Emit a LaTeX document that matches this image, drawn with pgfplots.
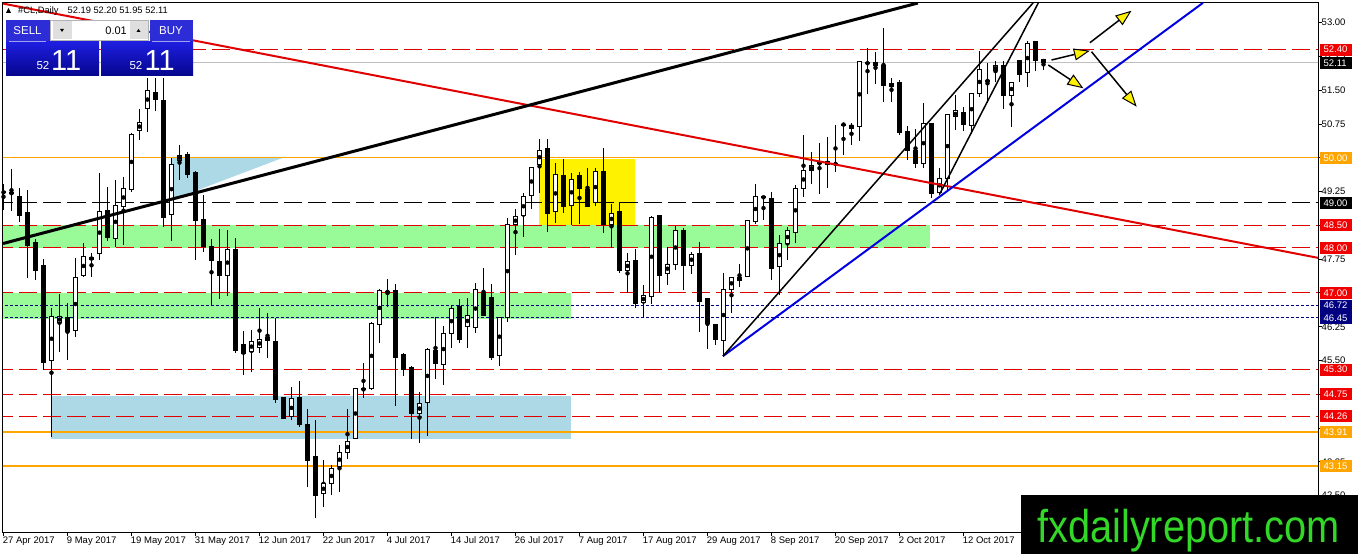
\documentclass[border=0pt]{standalone}
\usepackage{pgfplots}
\pgfplotsset{compat=1.18}
\usepackage{pgfplotstable}
\usepackage{fontspec}
\setmainfont{Liberation Sans}
\usepackage{graphicx}
\usetikzlibrary{arrows.meta}

\definecolor{mtred}{RGB}{225,0,0}
\definecolor{lblred}{RGB}{240,0,0}
\definecolor{mtorange}{RGB}{255,165,0}
\definecolor{mtnavy}{RGB}{0,0,128}
\definecolor{mtgreen}{RGB}{152,251,152}
\definecolor{mtlblue}{RGB}{173,216,230}
\definecolor{mtblue}{RGB}{0,0,225}
\definecolor{mtgray}{RGB}{192,192,192}
\definecolor{wmgreen}{RGB}{50,215,40}
\definecolor{btnblue}{RGB}{45,45,215}
\definecolor{boxtop}{RGB}{30,30,225}
\definecolor{boxbot}{RGB}{5,5,140}

\pgfplotstableread{
i O H L C
0 49.25 49.43 48.84 49.22
1 49.23 49.75 48.81 49.20
2 49.15 49.32 48.58 48.72
3 48.79 49.29 47.33 48.05
4 48.12 48.20 47.29 47.51
5 47.60 47.75 45.29 45.45
6 45.50 46.66 43.80 46.47
7 46.35 46.98 45.70 46.47
8 46.46 46.77 45.51 46.14
9 46.16 47.77 46.03 47.35
10 47.38 48.10 47.36 47.82
11 47.75 47.88 47.35 47.78
12 47.87 49.66 47.73 48.81
13 48.84 49.36 48.16 48.23
14 48.21 49.51 48.03 48.95
15 48.92 49.58 48.07 49.32
16 49.30 50.55 49.25 50.52
17 50.60 51.08 50.40 50.79
18 51.10 51.77 50.58 51.49
19 51.45 51.77 51.03 51.30
20 51.28 51.77 48.47 48.68
21 48.75 50.00 48.16 49.86
22 49.94 50.29 49.50 50.06
23 50.08 50.12 49.55 49.62
24 49.67 49.70 47.73 48.62
25 48.64 49.17 47.92 48.03
26 48.03 48.19 46.73 47.72
27 47.71 48.41 46.86 47.38
28 47.38 48.40 46.93 47.97
29 47.97 48.21 45.66 45.73
30 45.85 46.16 45.19 45.66
31 45.70 46.18 45.25 45.92
32 45.79 46.67 45.66 45.97
33 46.02 46.55 45.55 45.94
34 45.93 46.44 44.55 44.64
35 44.68 44.70 44.20 44.22
36 44.25 44.92 44.17 44.65
37 44.68 45.05 44.02 44.08
38 44.08 44.42 42.70 43.28
39 43.38 44.18 42.00 42.50
40 42.54 43.29 42.24 42.77
41 42.77 43.18 42.52 43.11
42 43.14 43.63 42.59 43.46
43 43.46 44.42 43.31 43.70
44 43.77 44.90 43.75 44.88
45 44.87 45.44 44.66 44.85
46 44.88 46.35 44.85 46.33
47 46.29 47.08 45.90 47.05
48 47.03 47.30 46.70 47.02
49 47.05 47.20 44.49 45.57
50 45.64 45.66 45.16 45.31
51 45.35 45.38 43.77 44.33
52 44.33 44.81 43.66 44.54
53 44.57 45.79 43.83 45.75
54 45.73 46.46 45.10 45.44
55 45.42 46.27 44.96 46.09
56 46.09 46.73 45.77 46.66
57 46.70 46.86 45.88 45.97
58 46.25 46.90 45.79 46.51
59 46.24 47.23 46.12 47.07
60 47.01 47.55 46.50 46.50
61 46.90 47.20 45.51 45.57
62 45.61 46.47 45.39 46.45
63 46.45 48.66 46.36 48.52
64 48.52 48.86 47.84 48.69
65 48.71 49.23 48.25 49.14
66 49.16 49.79 48.86 49.79
67 49.86 50.41 49.21 50.17
68 50.21 50.41 48.36 48.77
69 48.80 49.88 48.55 49.62
70 49.60 49.97 48.78 48.92
71 48.95 49.66 48.51 49.52
72 49.60 49.69 48.53 49.32
73 49.30 49.77 48.90 48.93
74 49.01 49.77 48.93 49.69
75 49.69 50.21 48.34 48.51
76 48.52 48.97 47.99 48.77
77 48.81 49.03 47.44 47.50
78 47.49 47.88 46.99 47.71
79 47.73 47.97 46.66 46.77
80 46.79 47.18 46.44 46.94
81 46.93 48.71 46.75 48.68
82 48.71 48.73 46.99 47.38
83 47.44 48.03 47.18 47.64
84 47.64 48.49 47.51 48.38
85 48.38 48.44 47.07 47.61
86 47.62 47.92 47.42 47.86
87 47.88 48.14 46.14 46.81
88 46.87 46.88 45.75 46.33
89 46.30 46.31 45.85 45.96
90 45.94 47.45 45.59 47.08
91 47.08 47.35 46.55 47.35
92 47.28 47.64 47.14 47.35
93 47.36 48.62 47.36 48.62
94 48.58 49.42 48.53 49.15
95 49.14 49.15 48.62 49.11
96 49.10 49.25 47.29 47.55
97 47.58 48.29 46.96 48.10
98 48.10 48.47 47.73 48.38
99 48.35 49.40 48.12 49.32
100 49.32 50.51 49.14 49.72
101 49.72 50.12 49.41 49.82
102 49.89 50.34 49.20 49.87
103 49.92 50.46 49.32 49.86
104 49.87 50.73 49.69 49.86
105 50.74 50.78 50.06 50.74
106 50.73 50.78 50.29 50.66
107 50.69 52.13 50.38 52.13
108 52.11 52.43 51.42 52.09
109 52.11 52.36 51.64 52.05
110 52.06 52.88 51.24 51.60
111 51.58 51.77 51.25 51.64
112 51.67 51.73 50.51 50.56
113 50.58 50.71 49.95 50.16
114 50.16 50.65 49.77 49.88
115 49.88 51.21 49.77 50.77
116 50.77 50.77 49.10 49.21
117 49.23 49.77 49.17 49.55
118 49.55 50.97 49.25 50.97
119 50.91 51.39 50.62 51.04
120 51.01 51.12 50.60 50.75
121 50.73 51.43 50.54 51.43
122 51.42 52.38 51.36 51.95
123 51.70 52.10 51.21 51.72
124 51.93 52.16 51.69 52.05
125 52.05 52.16 51.08 51.39
126 51.38 51.69 50.69 51.68
127 52.16 52.16 51.69 51.86
128 51.89 52.60 51.57 52.54
129 52.58 52.58 51.93 52.17
130 52.19 52.20 51.95 52.11
}\candles

\newcommand{\lvl}[3]{%
  \fill[#2] (1320pt,{531.3pt-(53-#1)*45.05pt-6pt}) rectangle (1352pt,{531.3pt-(53-#1)*45.05pt+6pt});
  \node[anchor=west, text=white, inner sep=0pt, font=\fontsize{9.5}{10}\selectfont] at (1323.5pt,{531.3pt-(53-#1)*45.05pt}) {#3};}

\begin{document}
\begin{tikzpicture}
\path[use as bounding box] (0,0) rectangle (1358pt,554pt);
\fill[white] (0,0) rectangle (1358pt,554pt);
\begin{axis}[
  at={(3pt,21pt)}, anchor=south west, scale only axis,
  width=1315pt, height=530pt,
  xmin=-0.0625, xmax=164.3125, ymin=41.6726, ymax=53.4373,
  clip mode=individual,
  axis line style={black, line width=1pt},
  tick style={black, line width=1pt},
  tick align=outside, major tick length=3.5pt,
  xtick pos=bottom, ytick pos=right, yticklabel pos=right,
  xtick={0,8,16,24,32,40,48,56,64,72,80,88,96,104,112,120},
  xticklabels={27 Apr 2017, 9 May 2017, 19 May 2017, 31 May 2017, 12 Jun 2017, 22 Jun 2017, 4 Jul 2017, 14 Jul 2017, 26 Jul 2017, 7 Aug 2017, 17 Aug 2017, 29 Aug 2017, 8 Sep 2017, 20 Sep 2017, 2 Oct 2017, 12 Oct 2017},
  ytick={42.5,43.25,44,44.75,45.5,46.25,47,47.75,48.5,49.25,50,50.75,51.5,52.25,53},
  yticklabels={42.50,43.25,{},44.75,45.50,46.25,47.00,47.75,48.50,49.25,50.00,50.75,51.50,52.25,53.00},
  ticklabel style={font=\fontsize{9.5}{10}\selectfont, inner sep=0pt},
  xticklabel style={anchor=north west, xshift=-0.8pt},
  yticklabel style={anchor=west},
]
% zones
\fill[mtgreen] (axis cs:-0.0625,48.00) rectangle (axis cs:115.8,48.50);
\fill[mtgreen] (axis cs:-0.0625,46.42) rectangle (axis cs:70.9,47.00);
\fill[mtlblue] (axis cs:6.0,43.77) rectangle (axis cs:70.9,44.71);
\fill[yellow] (axis cs:66.9,48.50) rectangle (axis cs:78.9,49.98);
\fill[mtlblue] (axis cs:20.94,50.02) -- (axis cs:35.19,50.02) -- (axis cs:20.94,49.06) -- cycle;
% horizontal levels
\addplot[mtred, line width=1pt, dash pattern=on 18pt off 6pt] coordinates {(-1,52.40) (170,52.40)};
\addplot[mtgray, line width=1pt] coordinates {(-1,52.11) (170,52.11)};
\addplot[mtorange, line width=1pt] coordinates {(-1,50.00) (170,50.00)};
\addplot[black, line width=1pt, dash pattern=on 18pt off 6pt] coordinates {(-1,49.00) (170,49.00)};
\addplot[mtred, line width=1pt, dash pattern=on 18pt off 6pt] coordinates {(-1,48.50) (170,48.50)};
\addplot[mtred, line width=1pt, dash pattern=on 18pt off 6pt] coordinates {(-1,48.00) (170,48.00)};
\addplot[mtred, line width=1pt, dash pattern=on 18pt off 6pt] coordinates {(-1,47.00) (170,47.00)};
\addplot[mtnavy, line width=1pt, dash pattern=on 3pt off 2pt] coordinates {(-1,46.72) (170,46.72)};
\addplot[mtnavy, line width=1pt, dash pattern=on 3pt off 2pt] coordinates {(-1,46.45) (170,46.45)};
\addplot[mtred, line width=1pt, dash pattern=on 18pt off 6pt] coordinates {(-1,45.30) (170,45.30)};
\addplot[mtred, line width=1pt, dash pattern=on 18pt off 6pt] coordinates {(-1,44.75) (170,44.75)};
\addplot[mtred, line width=1pt, dash pattern=on 18pt off 6pt] coordinates {(-1,44.26) (170,44.26)};
\addplot[mtorange, line width=2pt] coordinates {(-1,43.91) (170,43.91)};
\addplot[mtorange, line width=2pt] coordinates {(-1,43.15) (170,43.15)};
% candles: wicks
\addplot[only marks, mark=none, error bars/.cd, y dir=both, y explicit, error mark=none,
  error bar style={draw=black, line width=1pt}]
  table[x=i, y expr={(\thisrow{H}+\thisrow{L})/2}, y error expr={(\thisrow{H}-\thisrow{L})/2}] {\candles};
% bodies
\addplot[only marks, mark=none, error bars/.cd, y dir=both, y explicit, error mark=none,
  error bar style={draw=black, line width=5pt}]
  table[x=i, y expr={(\thisrow{O}+\thisrow{C})/2}, y error expr={abs(\thisrow{C}-\thisrow{O})/2+0.0111}] {\candles};
\addplot[only marks, mark=none, restrict expr to domain={\thisrow{C}-\thisrow{O}}{0.045:100},
  error bars/.cd, y dir=both, y explicit, error mark=none,
  error bar style={draw=white, line width=3pt}]
  table[x=i, y expr={(\thisrow{O}+\thisrow{C})/2}, y error expr={(\thisrow{C}-\thisrow{O})/2-0.0111}] {\candles};
% trend lines
\addplot[mtred, line width=2pt] coordinates {(-0.4375,53.437) (164.31,47.78)};
\addplot[black, line width=3pt] coordinates {(-0.0625,48.098) (114.3,53.437)};
\addplot[mtblue, line width=2pt] coordinates {(89.94,45.60) (149.93,53.44)};
\addplot[black, line width=1.5pt] coordinates {(89.94,45.60) (128.7,53.44)};
\addplot[black, line width=1.5pt] coordinates {(117.06,49.21) (129.35,53.44)};
% arrows
\draw[black, line width=1.5pt, -{Triangle[length=16pt, width=12pt, fill=yellow, line width=1pt]}] (axis cs:131.0,52.172) -- (axis cs:135.8,52.378);
\draw[black, line width=1.5pt, -{Triangle[length=16pt, width=12pt, fill=yellow, line width=1pt]}] (axis cs:130.6,52.061) -- (axis cs:134.98,51.544);
\draw[black, line width=1.5pt, -{Triangle[length=16pt, width=12pt, fill=yellow, line width=1pt]}] (axis cs:135.8,52.556) -- (axis cs:141.0,53.266);
\draw[black, line width=1.5pt, -{Triangle[length=16pt, width=12pt, fill=yellow, line width=1pt]}] (axis cs:136.0,52.356) -- (axis cs:141.65,51.135);
\end{axis}
% price labels on the right
\lvl{52.40}{lblred}{52.40}
\lvl{52.11}{black}{52.11}
\lvl{50.00}{mtorange}{50.00}
\lvl{49.00}{black}{49.00}
\lvl{48.50}{lblred}{48.50}
\lvl{48.00}{lblred}{48.00}
\lvl{47.00}{lblred}{47.00}
\lvl{46.72}{mtnavy}{46.72}
\lvl{46.45}{mtnavy}{46.45}
\lvl{45.30}{lblred}{45.30}
\lvl{44.75}{lblred}{44.75}
\lvl{44.26}{lblred}{44.26}
\lvl{43.91}{mtorange}{43.91}
\lvl{43.15}{mtorange}{43.15}
% header
\fill[black] (6pt,541pt) -- (11pt,541pt) -- (8.5pt,546pt) -- cycle;
\node[anchor=base west, inner sep=0pt, font=\fontsize{9.3}{10}\selectfont] at (18pt,540pt) {\#CL,Daily};
\node[anchor=base west, inner sep=0pt, font=\fontsize{9.3}{10}\selectfont] at (67.5pt,540pt) {52.19 52.20 51.95 52.11};
% trade panel
\fill[btnblue] (6pt,512pt) rectangle (49.5pt,534pt);
\fill[btnblue] (149.5pt,512pt) rectangle (193pt,534pt);
\shade[top color=boxtop, bottom color=boxbot] (6pt,478pt) rectangle (99pt,512pt);
\shade[top color=boxtop, bottom color=boxbot] (101pt,478pt) rectangle (193pt,512pt);
\draw[white!55!btnblue, line width=0.8pt] (9pt,512.5pt) -- (46pt,512.5pt);
\draw[white!55!btnblue, line width=0.8pt] (152pt,512.5pt) -- (190pt,512.5pt);
\fill[white] (50.5pt,513.5pt) rectangle (148.5pt,534pt);
\draw[gray!60, line width=0.6pt] (50.5pt,513.5pt) rectangle (148.5pt,534pt);
\fill[gray!25] (52.5pt,514.5pt) rectangle (71.5pt,533pt);
\fill[gray!25] (129.5pt,514.5pt) rectangle (147.5pt,533pt);
\fill[black] (60pt,525pt) -- (64pt,525pt) -- (62pt,522pt) -- cycle;
\fill[black] (136.5pt,522pt) -- (140.5pt,522pt) -- (138.5pt,525pt) -- cycle;
\node[anchor=base east, inner sep=0pt, font=\fontsize{11}{12}\selectfont] at (127pt,519.5pt) {0.01};
\node[anchor=base, inner sep=0pt, text=white, font=\fontsize{11.5}{12}\selectfont] at (27.5pt,519pt) {SELL};
\node[anchor=base, inner sep=0pt, text=white, font=\fontsize{11.5}{12}\selectfont] at (171pt,519pt) {BUY};
\node[anchor=base east, inner sep=0pt, text=white, font=\fontsize{11.5}{12}\selectfont] at (49.5pt,484pt) {52};
\node[anchor=base west, inner sep=0pt, text=white, font=\fontsize{29}{30}\selectfont] at (51pt,483.5pt) {11};
\node[anchor=base east, inner sep=0pt, text=white, font=\fontsize{11.5}{12}\selectfont] at (142.5pt,484pt) {52};
\node[anchor=base west, inner sep=0pt, text=white, font=\fontsize{29}{30}\selectfont] at (144.5pt,483.5pt) {11};
% watermark
\fill[black] (1021pt,0pt) rectangle (1358pt,59pt);
\node[anchor=base west, inner sep=0pt, text=wmgreen, font=\fontsize{46}{46}\selectfont] at (1037pt,11.5pt) {\scalebox{0.865}[1]{fxdailyreport.com}};
\end{tikzpicture}
\end{document}
